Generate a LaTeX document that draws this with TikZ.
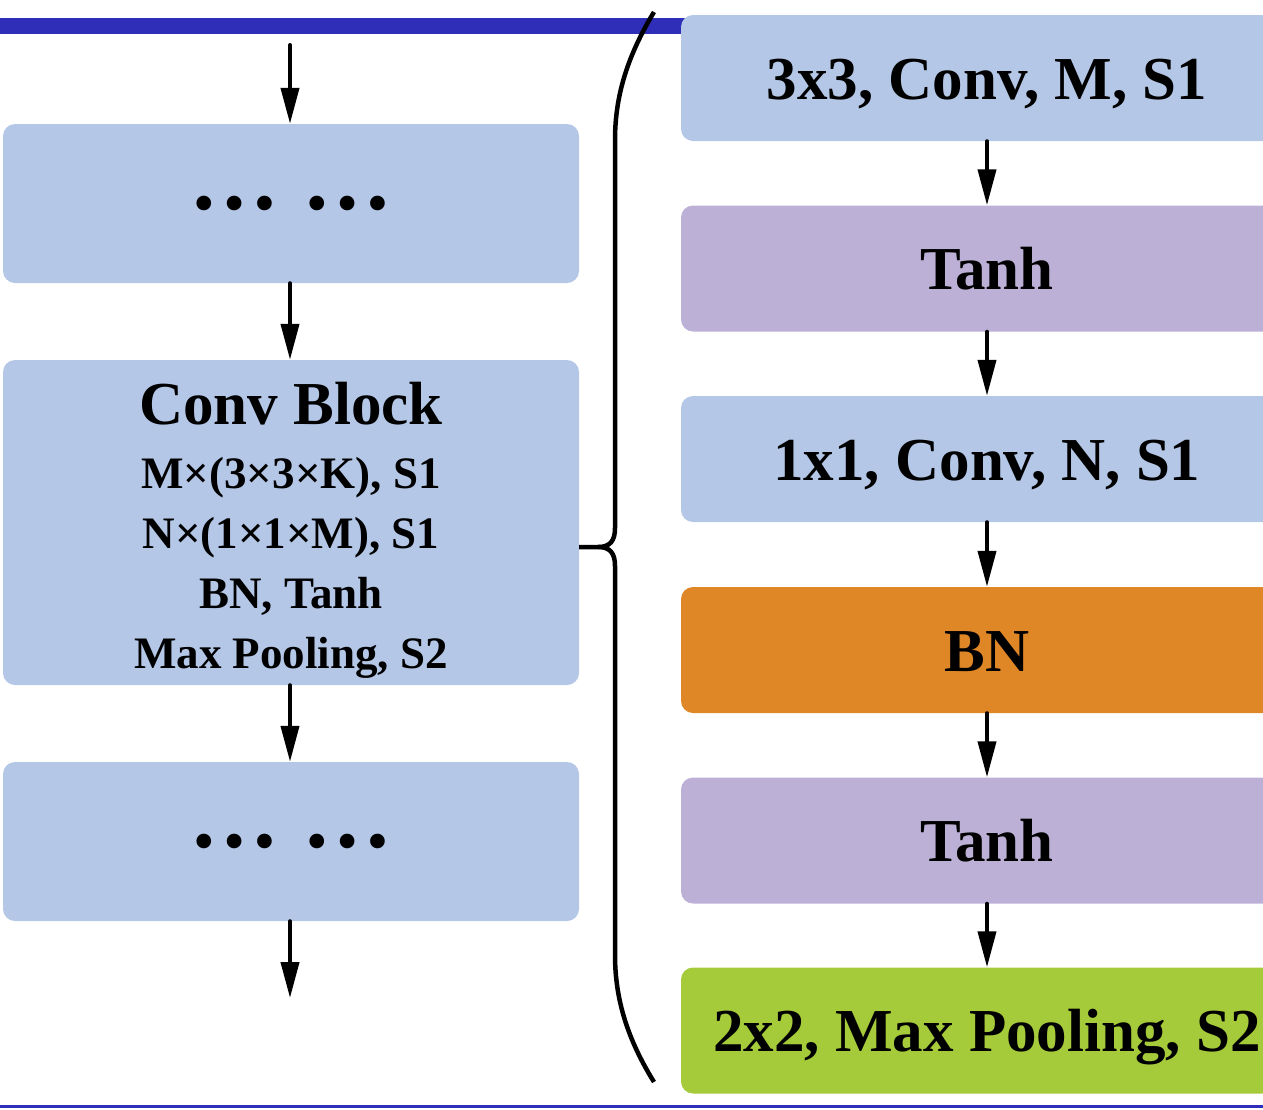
\documentclass[tikz,border=0pt]{standalone}
\usepackage{fontspec}
\setmainfont{Liberation Serif}
\usetikzlibrary{arrows.meta}
\definecolor{boxblue}{RGB}{180,199,231}
\definecolor{boxpurple}{RGB}{189,176,214}
\definecolor{boxorange}{RGB}{223,135,38}
\definecolor{boxgreen}{RGB}{166,203,58}
\definecolor{rulecol}{RGB}{46,46,184}
\begin{document}
\begin{tikzpicture}[x=1pt,y=-1pt,
  blk/.style={rounded corners=12pt, inner sep=0pt, draw=none,
    font=\bfseries\fontsize{61}{70}\selectfont},
  leftbox/.style={blk, fill=boxblue, minimum width=576pt},
  rightbox/.style={blk, minimum width=612pt, minimum height=126pt,
    text height=42pt, text depth=0pt},
  dotsfont/.style={font=\bfseries\fontsize{90}{100}\selectfont},
  flow/.style={line width=4pt, line cap=round, -{Triangle[length=36pt,width=18pt]}},
  bracestyle/.style={line width=4.5pt},
]
\useasboundingbox (0,0) rectangle (1263,1109);
\clip (0,0) rectangle (1263,1109);

% rules
\draw[rulecol, line width=16pt] (0,26) -- (1263,26);
\draw[rulecol, line width=3pt] (0,1106.5) -- (1263,1106.5);

% left column
\node[leftbox, minimum height=159pt, dotsfont] (l1) at (291,203.5) {… …};
\node[leftbox, minimum height=325pt, align=center,
      font=\bfseries\fontsize{45}{60}\selectfont] (cb) at (291,522.5)
  {{\fontsize{61}{64}\selectfont\rule{0pt}{57.5pt}Conv Block}\\[4pt]
   M×(3×3×K), S1\\ N×(1×1×M), S1\\ BN, Tanh\\ Max Pooling, S2};
\node[leftbox, minimum height=159pt, dotsfont] (l3) at (291,841.5) {… …};

\coordinate (in) at (290,45);
\coordinate (out) at (290,998);
\draw[flow] (in) -- (in |- l1.north);
\draw[flow] (l1.south -| in) -- (cb.north -| in);
\draw[flow] (cb.south -| in) -- (l3.north -| in);
\draw[flow] (l3.south -| in) -- (out);

% right column
\node[rightbox, fill=boxblue]   (r1) at (987,78)     {3x3, Conv, M, S1};
\node[rightbox, fill=boxpurple] (r2) at (987,268.5)  {Tanh};
\node[rightbox, fill=boxblue]   (r3) at (987,459)    {1x1, Conv, N, S1};
\node[rightbox, fill=boxorange] (r4) at (987,650)    {BN};
\node[rightbox, fill=boxpurple] (r5) at (987,840.5)  {Tanh};
\node[rightbox, fill=boxgreen]  (r6) at (987,1030.5) {2x2, Max Pooling, S2};

\foreach \a/\b in {r1/r2,r2/r3,r3/r4,r4/r5,r5/r6}
  \draw[flow] (\a.south) -- (\b.north);

% brace
\coordinate (brtip) at (579,547);
\draw[bracestyle] (654,12) .. controls (628,55) and (615,95) .. (615,140)
  -- (615,528) .. controls (615,541) and (610,547) .. (598,547) -- (brtip);
\draw[bracestyle] (598,547) .. controls (610,547) and (615,553) .. (615,566)
  -- (615,955) .. controls (615,1000) and (628,1040) .. (654,1082);
\end{tikzpicture}
\end{document}
